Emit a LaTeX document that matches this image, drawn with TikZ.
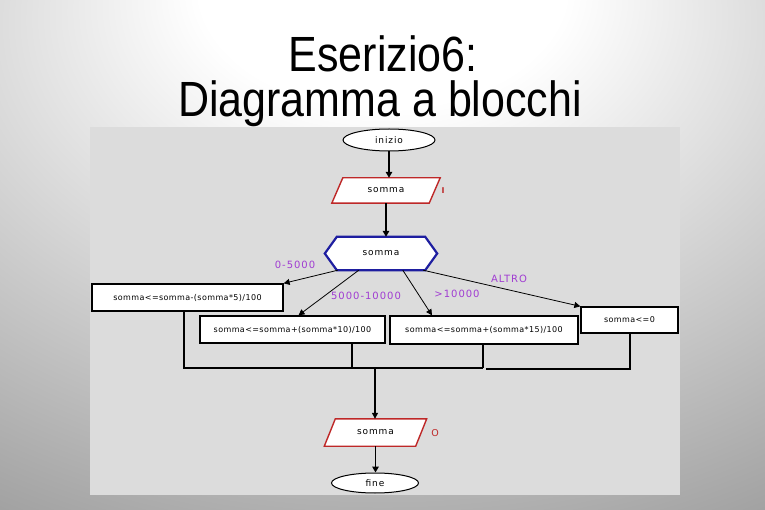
\documentclass[tikz,border=0pt]{standalone}
\usepackage{fontspec}
\setmainfont{Liberation Sans}
\newfontfamily\djv{DejaVu Sans}
\newfontfamily\djs[LetterSpace=10]{DejaVu Sans}
\newfontfamily\djb[LetterSpace=5]{DejaVu Sans}
\usetikzlibrary{arrows.meta,calc,shapes.geometric}
\pgfdeclarelayer{back}
\pgfdeclarelayer{shapes}
\pgfsetlayers{back,shapes,main}
\pgfdeclareradialshading{bgshade}{\pgfpoint{0bp}{30bp}}{color(0bp)=(white); color(12bp)=(white); color(55bp)=(black!44); color(100bp)=(black!60)}
\definecolor{panelgray}{RGB}{220,220,220}
\definecolor{lblpurple}{RGB}{160,60,210}
\definecolor{iored}{RGB}{190,40,40}
\definecolor{hexblue}{RGB}{30,30,160}
\begin{document}
\begin{tikzpicture}[x=1pt,y=-1pt,
  title/.style={font=\fontsize{43}{48}\selectfont, anchor=base, inner sep=0},
  txt/.style={font=\djs\fontsize{9}{10}\selectfont},
  btxt/.style={font=\djb\fontsize{8}{9}\selectfont},
  oval/.style={txt, ellipse, draw=black, line width=1pt, fill=white, inner sep=0},
  ionode/.style={txt, inner sep=0, minimum width=108pt, minimum height=25pt},
  iodraw/.style={draw=iored, line width=1.4pt, fill=white},
  hexnode/.style={txt, inner sep=0, minimum width=112pt, minimum height=33pt},
  hexdraw/.style={draw=hexblue, line width=2.2pt, fill=white},
  box/.style={btxt, draw=black, line width=1.3pt, fill=white, inner sep=0},
  lbl/.style={font=\djs\fontsize{10}{11}\selectfont, text=lblpurple, inner sep=0},
  iolbl/.style={font=\djv\bfseries\fontsize{8}{9}\selectfont, text=iored, inner sep=0},
  arr/.style={line width=0.8pt, -{Triangle[length=6pt,width=6pt]}},
  arrthick/.style={line width=1.6pt, -{Triangle[length=6pt,width=6.5pt]}},
  merge/.style={line width=1.8pt}
]
\useasboundingbox (0,0) rectangle (765,510);
\begin{pgfonlayer}{back}
\shade[shading=bgshade] (0,0) rectangle (765,510);
\fill[panelgray] (90,127) rectangle (680,495);
\end{pgfonlayer}

\node[title] (t1) at (383,72) {\scalebox{1}[1.15]{Eserizio6:}};
\node[title] (t2) at (380,117) {\scalebox{1}[1.15]{Diagramma a blocchi}};

% start
\node[oval, minimum width=92pt, minimum height=22pt] (start) at (389,140) {inizio};

% input
\node[ionode] (in) at (386,190.5) {somma};
\begin{pgfonlayer}{shapes}
\draw[iodraw] (in.south west) -- ($(in.north west)+(11,0)$) -- (in.north east) -- ($(in.south east)+(-11,0)$) -- cycle;
\end{pgfonlayer}
\node[iolbl] (il) at (443,191) {I};

% decision
\node[hexnode] (dec) at (381,253.5) {somma};
\begin{pgfonlayer}{shapes}
\draw[hexdraw] (dec.west) -- ($(dec.north west)+(12,0)$) -- ($(dec.north east)+(-12,0)$) -- (dec.east) -- ($(dec.south east)+(-12,0)$) -- ($(dec.south west)+(12,0)$) -- cycle;
\end{pgfonlayer}

% boxes
\node[box, minimum width=191pt, minimum height=27pt] (b1) at (187.5,297.5) {somma<=somma-(somma*5)/100};
\node[box, minimum width=185pt, minimum height=27pt] (b2) at (292.5,329.5) {somma<=somma+(somma*10)/100};
\node[box, minimum width=188pt, minimum height=28pt] (b3) at (484,330) {somma<=somma+(somma*15)/100};
\node[box, minimum width=97pt, minimum height=26pt] (b4) at (629.5,320) {somma<=0};

% output
\node[ionode, minimum width=102pt, minimum height=27pt] (out) at (375.5,432.5) {somma};
\begin{pgfonlayer}{shapes}
\draw[iodraw] (out.south west) -- ($(out.north west)+(11,0)$) -- (out.north east) -- ($(out.south east)+(-11,0)$) -- cycle;
\end{pgfonlayer}
\node[iolbl, font=\djv\fontsize{9.5}{10}\selectfont] (ol) at (435,433) {O};

% end
\node[oval, minimum width=87pt, minimum height=20pt] (fine) at (375,483) {fine};

% main flow
\draw[arrthick] (start.south) -- (start.south |- in.north);
\draw[arrthick] (in.south) -- (in.south |- dec.north);

% branches
\coordinate (d1) at ($(dec.south west)+(13,0)$);
\coordinate (d2) at ($(dec.south west)+(34,0)$);
\coordinate (d3) at ($(dec.south west)+(78,0)$);
\coordinate (d4) at ($(dec.south east)+(-14,0)$);
\draw[arr] (d1) -- (b1.north east);
\draw[arr] (d2) -- ($(b2.north)+(6,0)$);
\draw[arr] (d3) -- ($(b3.north)+(-52,0)$);
\draw[arr] (d4) -- (b4.north west);

\node[lbl] (l1) at (295,265) {0-5000};
\node[lbl] (l2) at (366,296) {5000-10000};
\node[lbl] (l3) at (457,294) {>10000};
\node[lbl] (l4) at (509,279) {ALTRO};

% merge
\coordinate (m1) at (184,368);
\coordinate (m2) at (352,368);
\coordinate (m3) at (483,368);
\coordinate (m4) at (630,369);
\coordinate (m5) at (486,369);
\coordinate (j) at (375,368);
\draw[merge] (b1.south -| m1) -- (m1) -- (m3);
\draw[merge] (b2.south -| m2) -- (m2);
\draw[merge] (b3.south -| m3) -- (m3);
\draw[merge] (b4.south -| m4) -- (m4) -- (m5);
\draw[arr, line width=1.2pt] (j) -- (j |- out.north);
\draw[arrthick] (out.south) -- (out.south |- fine.north);
\end{tikzpicture}
\end{document}
